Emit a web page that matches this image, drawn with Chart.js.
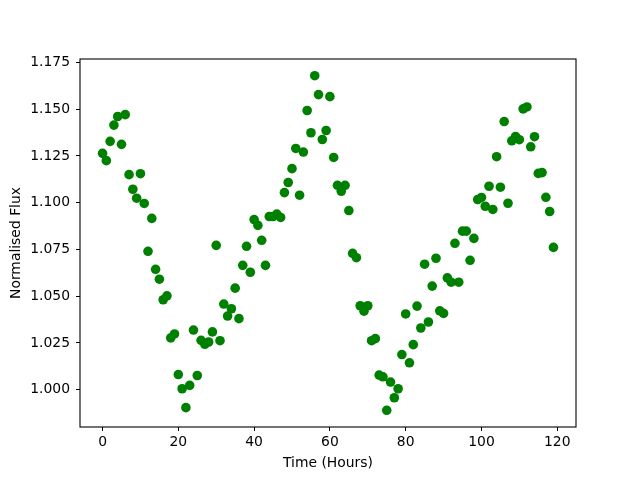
<!DOCTYPE html>
<html>
<head>
<meta charset="utf-8">
<script src="https://cdn.jsdelivr.net/npm/chart.js@4/dist/chart.umd.min.js"></script>
<style>
  html, body { margin: 0; padding: 0; background: #fff; }
  canvas { display: block; }
</style>
</head>
<body>
<canvas id="fluxChart" width="640" height="480"></canvas>
<script>
// time in hours (0..119), one reading per hour
const hours = [
  0, 1, 2, 3, 4, 5, 6, 7, 8, 9, 10, 11, 12, 13, 14, 15, 16, 17, 18, 19,
  20, 21, 22, 23, 24, 25, 26, 27, 28, 29, 30, 31, 32, 33, 34, 35, 36, 37, 38, 39,
  40, 41, 42, 43, 44, 45, 46, 47, 48, 49, 50, 51, 52, 53, 54, 55, 56, 57, 58, 59,
  60, 61, 62, 63, 64, 65, 66, 67, 68, 69, 70, 71, 72, 73, 74, 75, 76, 77, 78, 79,
  80, 81, 82, 83, 84, 85, 86, 87, 88, 89, 90, 91, 92, 93, 94, 95, 96, 97, 98, 99,
  100, 101, 102, 103, 104, 105, 106, 107, 108, 109, 110, 111, 112, 113, 114, 115, 116, 117, 118, 119
];

const flux = [
  1.1264, 1.1225, 1.1328, 1.1415, 1.1461, 1.1312, 1.1471, 1.1150, 1.1072, 1.1024,
  1.1155, 1.0996, 1.0740, 1.0916, 1.0644, 1.0591, 1.0481, 1.0502, 1.0277, 1.0298,
  1.0081, 1.0005, 0.9904, 1.0023, 1.0319, 1.0076, 1.0264, 1.0243, 1.0255, 1.0309,
  1.0772, 1.0262, 1.0458, 1.0394, 1.0433, 1.0543, 1.0380, 1.0665, 1.0767, 1.0628,
  1.0910, 1.0879, 1.0799, 1.0665, 1.0926, 1.0926, 1.0939, 1.0921, 1.1054, 1.1108,
  1.1182, 1.1290, 1.1040, 1.1271, 1.1493, 1.1374, 1.1679, 1.1578, 1.1338, 1.1386,
  1.1567, 1.1242, 1.1093, 1.1061, 1.1093, 1.0958, 1.0729, 1.0706, 1.0449, 1.0420,
  1.0449, 1.0262, 1.0273, 1.0078, 1.0069, 0.9890, 1.0041, 0.9957, 1.0005, 1.0188,
  1.0405, 1.0144, 1.0241, 1.0447, 1.0330, 1.0671, 1.0362, 1.0554, 1.0703, 1.0422,
  1.0408, 1.0598, 1.0575, 1.0783, 1.0575, 1.0848, 1.0848, 1.0692, 1.0809, 1.1017,
  1.1028, 1.0981, 1.1088, 1.0964, 1.1246, 1.1083, 1.1434, 1.0997, 1.1331, 1.1354,
  1.1337, 1.1502, 1.1512, 1.1299, 1.1353, 1.1157, 1.1161, 1.1029, 1.0953, 1.0761
];

const xTicks = [0, 20, 40, 60, 80, 100, 120];
const yTicks = [1.000, 1.025, 1.050, 1.075, 1.100, 1.125, 1.150, 1.175];

const xLabel = 'Time (Hours)';
const yLabel = 'Normalised Flux';

// matplotlib-style 5% auto margins
function paddedRange(values) {
  const lo = Math.min(...values);
  const hi = Math.max(...values);
  const pad = (hi - lo) * 0.05;
  return { min: lo - pad, max: hi + pad };
}

const xRange = paddedRange(hours);
const yRange = paddedRange(flux);
const font = { family: 'DejaVu Sans', size: 13.9 };

const frame = {
  id: 'frame',
  afterDraw(chart) {
    const { ctx, chartArea } = chart;
    ctx.save();
    ctx.strokeStyle = '#000';
    ctx.lineWidth = 1.1;
    ctx.strokeRect(chartArea.left, chartArea.top,
      chartArea.right - chartArea.left, chartArea.bottom - chartArea.top);
    ctx.restore();
  },
};

new Chart(document.getElementById('fluxChart'), {
  type: 'scatter',
  data: {
    datasets: [{
      data: hours.map((h, i) => ({ x: h, y: flux[i] })),
      backgroundColor: '#008000',
      borderColor: '#008000',
      pointRadius: 4.8,
      pointBorderWidth: 0,
      pointHoverRadius: 4.8,
    }],
  },
  options: {
    responsive: false,
    animation: false,
    layout: { padding: { left: 0, right: 64, top: 59, bottom: 0 } },
    plugins: {
      legend: { display: false },
      tooltip: { enabled: false },
    },
    scales: {
      x: {
        type: 'linear',
        min: xRange.min,
        max: xRange.max,
        afterBuildTicks: (scale) => { scale.ticks = xTicks.map((v) => ({ value: v })); },
        afterFit: (scale) => { scale.height = 53; },
        grid: { drawOnChartArea: false, drawTicks: true, tickLength: 4, color: '#000', tickWidth: 1 },
        border: { display: false },
        ticks: { color: '#000', font, padding: 3, maxRotation: 0, callback: (v) => String(v) },
        title: { display: true, text: xLabel, color: '#000', font, padding: { top: 0, bottom: 8 } },
      },
      y: {
        type: 'linear',
        min: yRange.min,
        max: yRange.max,
        afterBuildTicks: (scale) => { scale.ticks = yTicks.map((v) => ({ value: v })); },
        afterFit: (scale) => { scale.width = 80; },
        grid: { drawOnChartArea: false, drawTicks: true, tickLength: 4, color: '#000', tickWidth: 1 },
        border: { display: false },
        ticks: { color: '#000', font, padding: 6, callback: (v) => Number(v).toFixed(3) },
        title: { display: true, text: yLabel, color: '#000', font, padding: { top: 8, bottom: 0 } },
      },
    },
  },
  plugins: [frame],
});
</script>
</body>
</html>
